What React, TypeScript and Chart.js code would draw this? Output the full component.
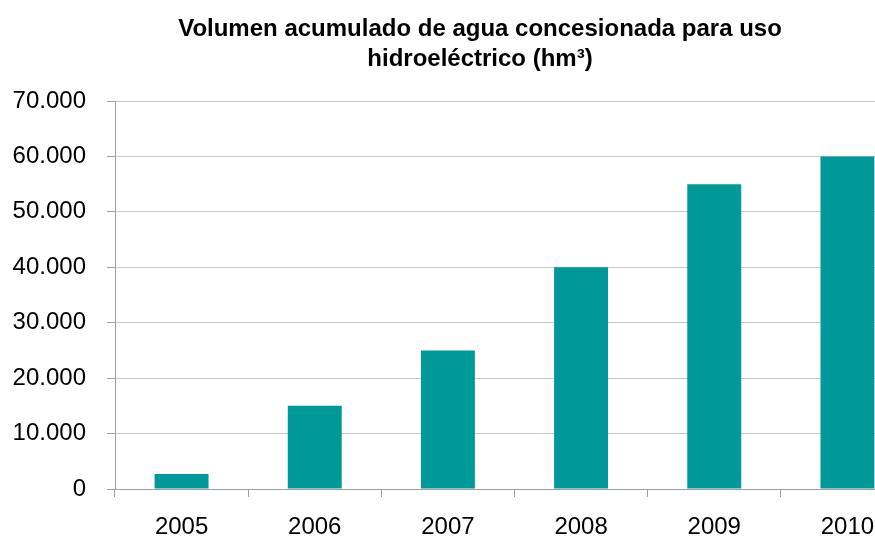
import React, { useEffect, useRef } from 'react';
import { Chart, registerables } from 'chart.js';

Chart.register(...registerables);

const years = ['2005', '2006', '2007', '2008', '2009', '2010'];
const volumes = [2700, 15000, 25000, 40000, 55000, 60000];
const titleLines = ['Volumen acumulado de agua concesionada para uso', 'hidroeléctrico (hm³)'];
const yMin = 0;
const yMax = 70000;
const yStep = 10000;

const fmt = (v: number) => String(Math.round(v)).replace(/\B(?=(\d{3})+(?!\d))/g, '.');

const FONT = "'Liberation Sans', Arial, sans-serif";

const titlePlugin = {
  id: 'centeredTitle',
  afterDraw(chart: any) {
    const ctx = chart.ctx;
    ctx.save();
    ctx.fillStyle = '#000';
    ctx.font = `bold 24px ${FONT}`;
    ctx.textAlign = 'center';
    ctx.textBaseline = 'alphabetic';
    titleLines.forEach((line, i) => {
      ctx.fillText(line, 480, 36 + i * 30);
    });
    ctx.restore();
  },
};

export default function App() {
  const ref = useRef<HTMLCanvasElement>(null);
  useEffect(() => {
    const chart = new Chart(ref.current!, {
      type: 'bar',
      data: {
        labels: years,
        datasets: [
          {
            data: volumes,
            backgroundColor: '#009999',
            borderWidth: 0,
            categoryPercentage: 1,
            barPercentage: 0.405,
          },
        ],
      },
      plugins: [titlePlugin],
      options: {
        animation: false,
        responsive: false,
        devicePixelRatio: 1,
        layout: { padding: { left: 0, right: 46, top: 101, bottom: 0 } },
        plugins: {
          legend: { display: false },
          tooltip: { enabled: false },
          title: { display: false },
        },
        scales: {
          x: {
            afterFit: (s: any) => {
              s.height = 61;
            },
            grid: {
              offset: true,
              drawOnChartArea: false,
              drawTicks: true,
              tickLength: 8,
              color: '#a0a0a0',
            },
            border: { display: true, color: '#a0a0a0', width: 1 },
            ticks: {
              color: '#000',
              padding: 16,
              font: { family: FONT, size: 24 },
            },
          },
          y: {
            min: yMin,
            max: yMax,
            afterFit: (s: any) => {
              s.width = 115;
            },
            grid: {
              color: '#c8c8c8',
              tickColor: '#a0a0a0',
              tickLength: 8,
              drawTicks: true,
            },
            border: { display: true, color: '#a0a0a0', width: 1 },
            ticks: {
              stepSize: yStep,
              color: '#000',
              padding: 21,
              font: { family: FONT, size: 24 },
              callback: (v: any) => fmt(Number(v)),
            },
          },
        },
      },
    });
    return () => chart.destroy();
  }, []);
  return (
    <div
      style={{
        position: 'fixed',
        left: 0,
        top: 0,
        width: 875,
        height: 537,
        overflow: 'hidden',
        background: '#fff',
      }}
    >
      <canvas ref={ref} width={960} height={550} style={{ display: 'block' }} />
    </div>
  );
}
